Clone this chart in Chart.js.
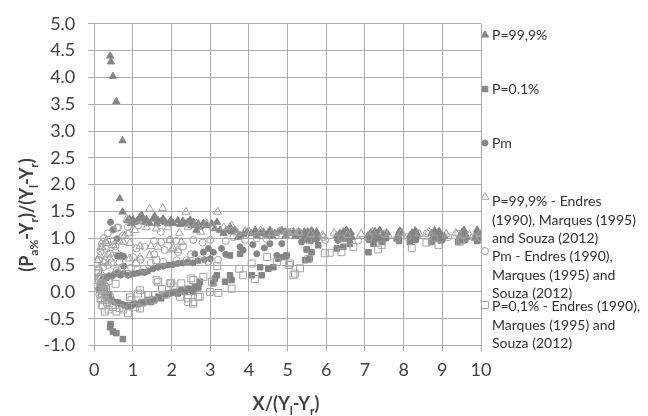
<!DOCTYPE html>
<html>
<head>
<meta charset="utf-8">
<title>Dimensionless profiles</title>
<style>
    html, body { margin: 0; padding: 0; background: #ffffff; }
    #chart { display: block; }
</style>
</head>
<body>
<canvas id="chart" width="648" height="416"></canvas>
<script src="https://cdn.jsdelivr.net/npm/chart.js"></script>
<script>
    // axis ranges
    const xMin = 0, xMax = 10, xStep = 1;
    const yMin = -1, yMax = 5, yStep = 0.5;

    const seriesNames = [
        ['P=99,9%'],
        ['P=0.1%'],
        ['Pm'],
        ['P=99,9% - Endres', '(1990), Marques (1995)', 'and Souza (2012)'],
        ['Pm - Endres (1990),', 'Marques (1995) and', 'Souza (2012)'],
        ['P=0,1% - Endres (1990),', 'Marques (1995) and', 'Souza (2012)']
    ];

    // computed envelopes [x, y]
    const p999 = [
        [0.41, 4.40], [0.43, 4.29], [0.48, 4.02], [0.57, 3.55], [0.73, 2.82], [0.66, 1.74], [0.73, 1.49],
        [0.86, 1.33], [0.91, 1.36], [1.00, 1.35], [1.04, 1.30], [1.17, 1.39], [1.22, 1.43], [1.26, 1.36],
        [1.30, 1.30], [1.43, 1.28], [1.52, 1.36], [1.56, 1.41], [1.65, 1.33], [1.73, 1.32], [1.78, 1.36],
        [1.84, 1.30], [1.91, 1.27], [2.04, 1.28], [2.16, 1.33], [2.29, 1.32], [2.34, 1.27], [2.42, 1.30],
        [2.55, 1.28], [2.64, 1.15], [2.52, 1.24], [2.56, 1.30], [2.69, 1.27], [2.73, 1.21], [2.82, 1.28],
        [0.95, 1.28], [1.10, 1.32], [1.35, 1.35], [1.62, 1.27], [1.98, 1.33], [2.22, 1.26], [2.48, 1.34],
        [2.91, 1.24], [3.04, 1.27], [3.12, 1.18], [3.17, 1.30], [3.25, 1.15], [3.34, 1.09], [3.42, 1.15],
        [3.51, 1.21], [3.55, 1.12], [3.64, 1.15], [3.72, 1.02], [3.77, 1.05], [4.07, 1.09], [4.16, 1.15],
        [4.29, 1.09], [4.37, 1.12], [4.50, 1.10], [4.54, 1.15], [4.67, 1.09], [4.76, 1.12], [4.85, 1.15],
        [4.93, 1.12], [5.06, 1.09], [5.15, 1.12], [5.28, 1.12],
        [3.85, 1.08], [3.95, 1.12], [4.20, 1.05], [4.45, 1.06], [4.60, 1.04], [4.95, 1.05], [5.20, 1.04],
        [5.35, 1.06],
        [5.43, 1.12], [5.47, 1.05], [5.55, 1.09], [5.62, 1.14], [5.70, 1.07], [5.79, 1.05], [5.50, 1.00],
        [5.45, 1.02], [5.52, 1.12], [5.58, 1.03], [5.66, 1.10], [5.75, 1.12],
        [6.27, 1.05], [6.35, 1.09], [6.44, 1.12], [6.52, 1.15], [6.60, 1.07], [6.66, 1.02],
        [6.30, 1.00], [6.40, 1.04], [6.48, 1.08], [6.56, 1.03], [6.63, 1.11],
        [7.08, 1.05], [7.15, 1.10], [7.22, 1.02], [7.30, 1.09], [7.38, 1.15], [7.47, 1.07], [7.56, 1.10],
        [7.11, 1.00], [7.19, 1.06], [7.26, 1.13], [7.34, 1.03], [7.42, 1.00], [7.52, 1.04],
        [7.86, 1.05], [7.88, 1.10], [7.84, 1.00], [7.90, 1.14],
        [8.16, 1.05], [8.22, 1.10], [8.30, 1.14], [8.36, 1.06], [8.19, 1.00], [8.26, 1.03], [8.33, 1.10],
        [8.72, 1.09], [8.80, 1.14], [8.88, 1.10], [8.96, 1.07], [9.05, 1.04], [8.85, 1.02],
        [8.75, 1.01], [8.83, 1.06], [8.92, 1.13], [9.00, 1.01],
        [9.46, 1.05], [9.52, 1.12], [9.59, 1.08], [9.44, 1.00], [9.50, 1.08], [9.56, 1.15], [9.62, 1.02],
        [9.87, 1.06], [9.92, 1.11], [9.95, 1.03], [9.85, 1.00], [9.90, 1.15], [9.97, 1.07]
    ];

    const p01 = [
        [0.42, -0.60], [0.41, -0.66], [0.48, -0.74], [0.57, -0.77], [0.74, -0.88],
        [0.15, 0.10], [0.18, 0.05], [0.22, 0.12], [0.25, 0.00], [0.27, 0.03], [0.31, -0.06], [0.35, -0.12],
        [0.38, -0.05], [0.44, -0.15], [0.53, -0.19], [0.61, -0.20], [0.70, -0.23], [0.79, -0.25],
        [0.87, -0.27], [0.96, -0.25], [1.04, -0.22], [1.13, -0.23], [1.22, -0.20], [1.30, -0.19],
        [1.39, -0.15], [1.47, -0.19], [1.56, -0.14], [1.65, -0.09], [1.73, -0.12], [1.82, -0.06],
        [1.91, -0.03], [1.99, -0.02], [2.08, 0.00], [2.16, -0.03], [2.25, 0.03], [2.34, 0.00],
        [2.42, 0.06], [2.51, 0.04], [2.60, 0.09], [2.68, 0.08], [2.56, 0.00], [2.69, 0.09], [2.73, 0.19],
        [3.08, 0.16], [3.12, 0.25], [3.17, 0.31], [3.38, 0.19], [3.51, 0.31], [3.55, 0.22], [3.51, 0.68],
        [3.77, 0.71], [4.07, 0.31], [4.29, 0.46], [4.33, 0.31], [4.50, 0.43], [4.63, 0.46], [4.76, 0.62],
        [4.89, 0.65], [4.97, 0.68], [5.45, 0.59], [5.49, 0.79], [5.57, 0.62], [5.62, 0.74], [5.79, 0.87],
        [6.27, 0.81], [6.44, 0.84], [6.61, 0.90], [7.09, 0.74], [7.22, 0.90], [7.45, 0.93], [7.88, 0.95],
        [8.16, 0.93], [8.30, 0.97], [8.72, 0.93], [8.96, 0.96], [9.41, 0.93], [9.59, 0.97], [9.90, 0.95]
    ];

    const pm = [
        [0.42, 1.30], [0.48, 1.16], [0.59, 0.99], [0.60, 0.67], [0.65, 0.66], [0.70, 0.68], [0.76, 0.66],
        [0.76, 0.48], [0.12, 0.05], [0.15, 0.14], [0.18, 0.20], [0.22, 0.24], [0.27, 0.28], [0.32, 0.26],
        [0.38, 0.30], [0.45, 0.29], [0.52, 0.33], [0.60, 0.36], [0.68, 0.31], [0.75, 0.34],
        [0.87, 0.31], [0.96, 0.33], [1.04, 0.34], [1.13, 0.35], [1.22, 0.37], [1.30, 0.36], [1.39, 0.39],
        [1.52, 0.43], [1.65, 0.46], [1.78, 0.48], [1.91, 0.50], [2.04, 0.51], [2.16, 0.53], [2.29, 0.54],
        [2.42, 0.56], [2.55, 0.54], [2.68, 0.58], [2.60, 0.71], [2.82, 0.74], [2.95, 0.81], [2.85, 0.60],
        [3.00, 0.62], [3.08, 0.74], [3.29, 0.81], [3.40, 0.70], [3.77, 0.84], [3.85, 0.78], [4.20, 0.71],
        [4.54, 0.90], [4.72, 0.68], [4.97, 0.68], [4.10, 0.88], [4.40, 0.82], [4.85, 0.90],
        [5.36, 0.93], [5.45, 0.97], [5.60, 0.95], [5.75, 0.98], [6.30, 0.96], [6.45, 0.99], [6.60, 0.97],
        [7.10, 0.97], [7.25, 0.99], [7.40, 0.96], [7.55, 1.00], [7.87, 0.98], [8.20, 0.99], [8.32, 0.97],
        [8.75, 0.98], [8.90, 1.00], [9.00, 0.97], [9.48, 0.99], [9.55, 0.96], [9.88, 0.99], [9.94, 0.97]
    ];

    // measured data: Endres (1990), Marques (1995) and Souza (2012)
    const p999Meas = [
        [1.43, 1.55], [1.77, 1.56], [2.37, 1.49], [3.19, 1.49], [0.84, 1.36], [0.88, 1.09], [0.79, 1.05],
        [0.20, 0.83], [0.31, 0.91], [0.17, 0.83], [0.30, 0.94], [0.49, 0.87], [0.75, 0.93], [0.92, 0.91],
        [1.43, 0.68], [1.65, 0.84], [1.95, 0.96], [2.04, 0.81], [2.16, 0.78], [2.25, 0.93], [2.42, 1.21],
        [2.64, 1.27], [1.46, 0.85], [1.18, 0.85], [1.18, 0.64], [2.00, 0.79], [0.91, 0.62], [2.91, 1.27],
        [3.08, 1.21], [3.55, 1.24], [3.90, 1.13], [0.08, 0.59], [0.36, 0.71], [0.12, 0.45], [0.15, 0.68],
        [0.25, 0.55], [0.40, 0.62], [0.55, 0.78], [0.65, 0.95], [1.05, 1.15], [1.35, 1.20], [1.60, 1.18],
        [1.90, 1.20], [2.20, 1.10], [2.75, 1.12], [3.35, 1.20], [3.70, 1.10], [4.00, 1.12], [4.30, 1.14],
        [4.60, 1.10], [4.80, 1.13], [5.00, 1.12], [5.15, 1.12], [5.30, 1.10], [5.60, 1.08], [5.90, 1.06],
        [6.20, 1.10], [6.55, 1.06], [6.90, 1.08], [7.20, 1.12], [7.60, 1.06], [7.95, 1.10], [8.40, 1.08],
        [8.65, 1.12], [9.10, 1.08], [9.35, 1.10], [9.70, 1.06], [9.98, 1.08],
        [0.10, 0.20], [0.13, 0.10], [0.18, 0.35], [0.22, 0.05], [0.28, 0.15]
    ];

    const pmMeas = [
        [0.87, 1.21], [0.59, 1.20], [0.35, 1.09], [0.74, 1.05], [1.13, 1.24], [1.72, 1.12], [1.73, 0.93],
        [1.54, 0.95], [2.12, 0.95], [1.82, 0.78], [1.09, 0.81], [1.30, 0.84], [0.62, 1.20], [0.49, 1.16],
        [1.96, 0.97], [2.56, 0.97], [1.46, 0.54], [2.17, 0.74], [1.08, 0.53], [1.27, 0.43], [1.78, 0.56],
        [2.13, 0.59], [2.39, 0.59], [2.73, 0.59], [2.95, 0.56], [0.58, 0.40], [0.84, 0.34], [0.15, 0.28],
        [0.19, 0.16], [0.23, 0.46], [0.28, 0.59], [0.41, 0.71], [0.23, 0.03], [0.28, -0.09],
        [0.10, 0.35], [0.12, 0.60], [0.16, 0.75], [0.20, 0.90], [0.25, 1.00], [0.30, 0.80], [0.35, 0.50],
        [0.45, 0.55], [0.50, 0.95], [0.55, 0.85], [0.65, 0.55], [0.70, 0.45], [0.95, 0.45], [1.00, 0.65],
        [1.20, 0.60], [1.55, 0.70], [2.30, 0.85], [2.50, 0.70], [2.80, 0.92], [3.00, 0.97], [3.20, 0.60],
        [3.40, 0.95], [3.60, 1.02], [3.90, 0.97], [4.20, 1.00], [4.45, 0.99], [4.70, 1.05], [4.97, 1.09],
        [5.10, 1.12], [5.28, 1.12], [5.53, 0.96], [5.92, 1.02], [5.97, 0.97], [6.40, 1.00], [6.83, 0.96],
        [7.10, 1.02], [7.47, 1.09], [7.82, 0.99], [8.10, 1.02], [8.60, 1.09], [8.80, 1.00], [9.15, 1.02],
        [9.41, 1.09], [9.50, 0.96], [9.80, 1.02], [10.0, 1.00],
        [0.13, -0.05], [0.18, -0.15], [0.30, 0.10], [0.38, 0.20]
    ];

    const p01Meas = [
        [0.18, 0.16], [0.22, 0.03], [0.20, -0.05], [0.27, -0.15], [0.22, -0.25], [0.27, -0.37],
        [0.37, -0.33], [0.48, -0.28], [0.57, -0.37], [0.87, -0.40], [0.96, -0.15], [1.13, -0.03],
        [1.39, -0.06], [1.18, -0.31], [1.65, 0.19], [1.99, 0.16], [2.25, 0.16], [1.60, 0.59], [2.51, 0.25],
        [2.55, -0.19], [2.42, -0.12], [1.61, 0.22], [1.18, 0.03], [1.40, -0.06], [1.53, -0.15],
        [2.22, -0.09], [2.43, -0.19], [2.73, -0.09], [2.99, 0.00], [3.04, 0.19], [3.18, 0.48], [1.96, 0.16],
        [0.45, -0.25], [0.19, -0.25], [2.56, 0.22], [2.82, 0.28], [2.56, -0.22], [2.69, -0.09], [3.21, -0.02],
        [3.55, 0.06], [3.75, 0.43], [3.85, 0.31], [4.07, 0.53], [4.15, 0.24], [4.47, 0.65], [5.06, 0.53],
        [5.19, 0.34], [5.03, 0.50], [4.72, 0.56], [5.15, 0.31], [5.32, 0.44], [5.53, 0.61], [5.96, 0.72],
        [6.09, 0.73], [6.39, 0.74], [6.70, 0.84], [7.34, 0.79], [7.43, 0.87], [8.21, 0.82], [8.59, 0.92],
        [8.90, 0.87], [9.46, 0.94],
        [0.10, 0.40], [0.12, 0.25], [0.14, 0.05], [0.16, -0.12], [0.30, 0.05], [0.33, -0.20], [0.40, -0.10],
        [0.65, -0.30], [0.75, -0.33], [1.05, -0.28], [1.25, -0.20], [1.75, 0.05], [1.85, -0.05],
        [2.05, 0.10], [0.92, -0.10], [0.55, 0.15]
    ];

    const filledColor = '#858585';
    const openColor = '#a3a3a3';
    const gridColor = '#ababab';
    const textColor = '#404040';
    const fontFamily = 'Lato, "Open Sans", sans-serif';

    const seriesData = [p999, p01, pm, p999Meas, pmMeas, p01Meas];
    const seriesStyle = [
        { shape: 'triangle', r: 4.2, filled: true },
        { shape: 'rect', r: 3.9, filled: true },
        { shape: 'circle', r: 3.0, filled: true },
        { shape: 'triangle', r: 4.6, filled: false },
        { shape: 'circle', r: 3.5, filled: false },
        { shape: 'rect', r: 4.9, filled: false }
    ];

    const datasets = seriesData.map((pts, i) => {
        const st = seriesStyle[i];
        return {
            label: seriesNames[i].join(' '),
            data: pts.map(p => ({ x: p[0], y: p[1] })),
            pointStyle: st.shape,
            pointRadius: st.r,
            pointHoverRadius: st.r,
            pointBorderWidth: 1,
            pointBackgroundColor: st.filled ? filledColor : 'rgba(255,255,255,0)',
            pointBorderColor: st.filled ? filledColor : openColor,
            showLine: false,
            order: st.filled ? 1 : 0
        };
    });

    // draw a legend marker like the chart points
    function drawMarker(ctx, st, x, y) {
        const r = st.r;
        ctx.beginPath();
        if (st.shape === 'triangle') {
            ctx.moveTo(x, y - r);
            ctx.lineTo(x + r * Math.sin(Math.PI * 2 / 3), y + r * 0.5);
            ctx.lineTo(x - r * Math.sin(Math.PI * 2 / 3), y + r * 0.5);
            ctx.closePath();
        } else if (st.shape === 'rect') {
            const s = r * Math.SQRT1_2;
            ctx.rect(x - s, y - s, 2 * s, 2 * s);
        } else {
            ctx.arc(x, y, r, 0, Math.PI * 2);
        }
        if (st.filled) {
            ctx.fillStyle = filledColor;
            ctx.fill();
        }
        ctx.lineWidth = 1;
        ctx.strokeStyle = st.filled ? filledColor : openColor;
        ctx.stroke();
    }

    // text made of normal and subscript pieces
    function drawSubText(ctx, parts, cx, baseline, size, subSize) {
        const mainFont = 'bold ' + size + 'px ' + fontFamily;
        const subFont = 'bold ' + subSize + 'px ' + fontFamily;
        let total = 0;
        parts.forEach(p => {
            ctx.font = p[1] ? subFont : mainFont;
            total += ctx.measureText(p[0]).width;
        });
        let x = cx - total / 2;
        ctx.textAlign = 'left';
        ctx.textBaseline = 'alphabetic';
        parts.forEach(p => {
            ctx.font = p[1] ? subFont : mainFont;
            ctx.fillText(p[0], x, baseline + (p[1] ? size * 0.28 : 0));
            x += ctx.measureText(p[0]).width;
        });
    }

    const legendRows = [
        { markY: 35, lines: [35.5] },
        { markY: 89, lines: [89.5] },
        { markY: 143, lines: [143.5] },
        { markY: 197, lines: [201.7, 220, 238.3] },
        { markY: 251, lines: [256.7, 275, 293.3] },
        { markY: 305, lines: [306.7, 325, 343.3] }
    ];

    const decorations = {
        id: 'decorations',
        afterDraw(chart) {
            const ctx = chart.ctx;
            ctx.save();
            ctx.fillStyle = textColor;

            // y axis title
            ctx.save();
            ctx.translate(33, 215);
            ctx.rotate(-Math.PI / 2);
            drawSubText(ctx, [['(P', 0], ['a%', 1], ['-Y', 0], ['r', 1], [')/(Y', 0], ['l', 1], ['-Y', 0], ['r', 1], [')', 0]], 0, 0, 18, 12);
            ctx.restore();

            // x axis title
            ctx.fillStyle = textColor;
            drawSubText(ctx, [['X/(Y', 0], ['l', 1], ['-Y', 0], ['r', 1], [')', 0]], 286, 410, 18, 12);

            // legend
            ctx.font = '14px ' + fontFamily;
            ctx.textAlign = 'left';
            ctx.textBaseline = 'middle';
            legendRows.forEach((row, i) => {
                drawMarker(ctx, seriesStyle[i], 485, row.markY);
                ctx.fillStyle = '#303030';
                seriesNames[i].forEach((t, k) => ctx.fillText(t, 492, row.lines[k]));
            });
            ctx.restore();
        }
    };

    new Chart(document.getElementById('chart'), {
        type: 'scatter',
        data: { datasets: datasets },
        options: {
            responsive: false,
            animation: false,
            devicePixelRatio: 1,
            layout: { padding: { left: 0, top: 23, right: 167, bottom: 0 } },
            plugins: { legend: { display: false }, tooltip: { enabled: false } },
            scales: {
                x: {
                    type: 'linear',
                    min: xMin,
                    max: xMax,
                    afterFit(scale) { scale.height = 70.5; },
                    ticks: {
                        stepSize: xStep,
                        color: textColor,
                        padding: 8,
                        font: { family: fontFamily, size: 18 }
                    },
                    grid: { color: gridColor, tickLength: 6, tickColor: gridColor },
                    border: { color: gridColor }
                },
                y: {
                    type: 'linear',
                    min: yMin,
                    max: yMax,
                    afterFit(scale) { scale.width = 94.3; },
                    ticks: {
                        stepSize: yStep,
                        color: textColor,
                        padding: 13,
                        font: { family: fontFamily, size: 18 },
                        callback: v => v.toFixed(1)
                    },
                    grid: { color: gridColor, tickLength: 6, tickColor: gridColor },
                    border: { color: gridColor }
                }
            }
        },
        plugins: [decorations]
    });
</script>
</body>
</html>
